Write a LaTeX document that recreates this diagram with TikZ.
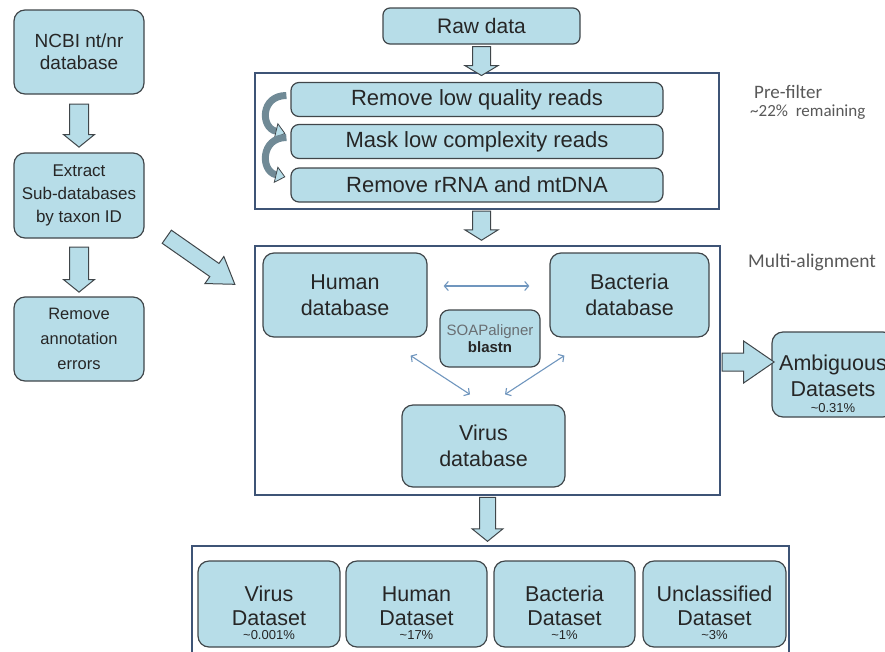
\documentclass[tikz,border=0pt]{standalone}
\usepackage{fontspec}
\setmainfont{Liberation Sans}
\newfontfamily\notefont{Carlito}
\usepackage{tikz}
\usetikzlibrary{positioning,arrows.meta,shapes.arrows}

\definecolor{boxfill}{RGB}{183,221,232}
\definecolor{boxline}{RGB}{64,70,74}
\definecolor{frameline}{RGB}{62,84,118}
\definecolor{boxtext}{RGB}{38,38,38}
\definecolor{notetext}{RGB}{88,88,88}
\definecolor{soapgray}{RGB}{105,110,114}
\definecolor{linkblue}{RGB}{112,150,190}
\definecolor{bandgray}{RGB}{112,138,150}

\tikzset{
  stepbox/.style={draw=boxline, fill=boxfill, rounded corners=11pt, line width=1.2pt,
    text=boxtext, align=center, inner sep=0pt},
  framebox/.style={draw=frameline, line width=1.8pt, inner sep=0pt},
  blockarrow/.style={single arrow, draw=boxline, fill=boxfill, line width=1pt,
    inner xsep=0pt, sloped, allow upside down},
  twoway/.style={draw=linkblue, line width=1.1pt,
    arrows={Straight Barb[length=4pt,width=9pt]-Straight Barb[length=4pt,width=9pt]}},
  curvarrow/.style={draw=bandgray, line width=7pt,
    arrows={-Triangle[width=17pt,length=10pt,line width=0.8pt,color=boxline,fill=boxfill]}},
  note/.style={text=notetext, anchor=west, inner sep=0pt}
}

\begin{document}
\begin{tikzpicture}[x=1pt,y=-1pt]
	\useasboundingbox (0,0) rectangle (885,651);
	\clip (0,0) rectangle (885,651);

	% frames
	\node[framebox, minimum width=464pt, minimum height=136pt] (pre) at (487,141) {};
	\node[framebox, minimum width=465pt, minimum height=249pt] (multi) at (487.5,370.5) {};
	\node[framebox, minimum width=597pt, minimum height=120pt] (out) at (490.5,606) {};

	% reference database column
	\node[stepbox, minimum width=130pt, minimum height=84pt, font=\fontsize{19}{22}\selectfont] (ncbi) at (79,52) {NCBI nt/nr\\database};
	\node[stepbox, minimum width=130pt, minimum height=85pt, font=\fontsize{17}{23}\selectfont] (extract) at (79,195.5) {Extract\\Sub-databases\\by taxon ID};
	\node[stepbox, minimum width=130pt, minimum height=84pt, font=\fontsize{16.5}{25}\selectfont] (annot) at (79,339) {Remove\\annotation\\errors};

	% pre-filter
	\node[stepbox, rounded corners=7pt, minimum width=197pt, minimum height=36pt, font=\fontsize{21}{25}\selectfont] (raw) at (481.5,26) {Raw data};
	\begin{scope}[every node/.style={stepbox, rounded corners=8pt, minimum width=372pt, minimum height=34pt, font=\fontsize{22}{25}\selectfont}]
		\node (r1) at (477,99.5) {Remove low quality reads};
		\node (r2) at (477,141.5) {Mask low complexity reads};
		\node (r3) at (477,185) {Remove rRNA and mtDNA};
	\end{scope}
	\node[note, font=\notefont\fontsize{19}{22}\selectfont] (prelabel) at (754,92) {Pre-filter};
	\node[note, font=\notefont\fontsize{17}{20}\selectfont] (prepct) at (750,112) {\textasciitilde22\%\ \ remaining};

	% multi-alignment
	\begin{scope}[every node/.style={stepbox, minimum height=84pt, font=\fontsize{21.5}{26}\selectfont}]
		\node[minimum width=164pt] (human) at (345,295) {Human\\database};
		\node[minimum width=159pt] (bacteria) at (629.5,295) {Bacteria\\database};
		\node[minimum width=163pt, minimum height=82pt] (virus) at (483.5,446) {Virus\\database};
		\node[minimum width=122pt, minimum height=85pt] (amb) at (833,374.5) {\rule{0pt}{34pt}Ambiguous\\Datasets\\[-10pt]{\fontsize{13}{13}\selectfont\textasciitilde0.31\%}};
	\end{scope}
	\node[stepbox, rounded corners=9pt, minimum width=100pt, minimum height=57pt, font=\fontsize{15}{17}\selectfont] (soap) at (490,338.5) {{\color{soapgray}SOAPaligner}\\\textbf{blastn}};
	\node[note, font=\notefont\fontsize{19.5}{22}\selectfont] (multilabel) at (748,262) {Multi-alignment};

	\draw[twoway] ([yshift=9pt]human.east) -- ([yshift=9pt]bacteria.west)
		[shorten <=16pt, shorten >=20pt];
	\draw[twoway] ([xshift=-17pt,yshift=-18pt]human.south east) -- ([xshift=-13.5pt,yshift=10pt]virus.north);
	\draw[twoway] ([xshift=15pt,yshift=-18pt]bacteria.south west) -- ([xshift=21.5pt,yshift=10pt]virus.north);

	% output datasets
	\begin{scope}[every node/.style={stepbox, minimum height=86pt, font=\fontsize{21.5}{24}\selectfont}]
		\node[minimum width=142pt] (vset) at (269,604) {\rule{0pt}{33pt}Virus\\Dataset\\[-10pt]{\fontsize{13}{13}\selectfont\textasciitilde0.001\%}};
		\node[minimum width=141pt] (hset) at (416.5,604) {\rule{0pt}{33pt}Human\\Dataset\\[-10pt]{\fontsize{13}{13}\selectfont\textasciitilde17\%}};
		\node[minimum width=141pt] (bset) at (564.5,604) {\rule{0pt}{33pt}Bacteria\\Dataset\\[-10pt]{\fontsize{13}{13}\selectfont\textasciitilde1\%}};
		\node[minimum width=143pt] (uset) at (714.5,604) {\rule{0pt}{33pt}Unclassified\\Dataset\\[-10pt]{\fontsize{13}{13}\selectfont\textasciitilde3\%}};
	\end{scope}

	% block arrows
	\path (ncbi.south) -- node[blockarrow, pos=0.47, minimum height=43pt, inner ysep=9pt, single arrow head extend=6pt, single arrow tip angle=102] (a1) {} (extract.north);
	\path (extract.south) -- node[blockarrow, pos=0.47, minimum height=45pt, inner ysep=9pt, single arrow head extend=6pt, single arrow tip angle=102] (a2) {} (annot.north);
	\path (raw.south) -- node[blockarrow, minimum height=29pt, inner ysep=8.5pt, single arrow head extend=7.5pt, single arrow tip angle=118] (a3) {} (raw.south |- pre.north);
	\path (raw.south |- pre.south) -- node[blockarrow, pos=0.37, minimum height=29pt, inner ysep=8.5pt, single arrow head extend=7.5pt, single arrow tip angle=116] (a4) {} (raw.south |- multi.north);
	\path (multi.south) -- node[blockarrow, pos=0.41, minimum height=44pt, inner ysep=7.5pt, single arrow head extend=7.5pt, single arrow tip angle=102] (a5) {} (multi.south |- out.north);
	\path ([yshift=8.5pt]multi.east) -- node[blockarrow, pos=0.41, minimum height=52pt, inner ysep=8.5pt, single arrow head extend=12pt, single arrow tip angle=69] (a6) {} ([yshift=12.5pt]amb.west);
	\path ([xshift=22pt,yshift=2pt]extract.south east) -- node[blockarrow, pos=0.44, minimum height=83pt, inner ysep=7.5pt, single arrow head extend=8.5pt, single arrow tip angle=67] (a7) {} ([xshift=-21pt,yshift=-38pt]multi.north west);

	% curved arrows between filter steps
	\draw[curvarrow] ([xshift=-4pt,yshift=4pt]r1.west) .. controls ([xshift=-30pt,yshift=4pt]r1.west) and ([xshift=-30pt,yshift=14pt]r2.west) .. ([xshift=-5pt,yshift=8pt]r2.west);
	\draw[curvarrow] ([xshift=-4pt,yshift=4pt]r2.west) .. controls ([xshift=-30pt,yshift=4pt]r2.west) and ([xshift=-30pt,yshift=14pt]r3.west) .. ([xshift=-5pt,yshift=8pt]r3.west);
\end{tikzpicture}
\end{document}
